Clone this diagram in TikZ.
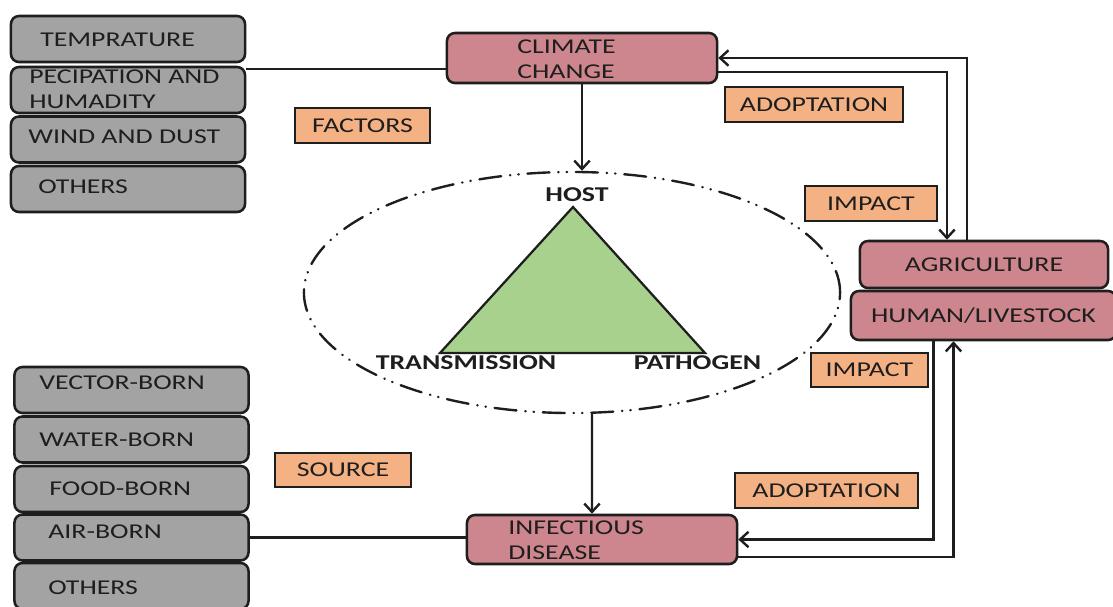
\documentclass[tikz,border=0pt]{standalone}
\usepackage{fontspec}
\setmainfont{Carlito}[FakeStretch=1.32]
\usetikzlibrary{shapes.geometric,arrows.meta}
\definecolor{boxgrey}{HTML}{A3A3A3}
\definecolor{boxpink}{HTML}{CD868E}
\definecolor{boxorange}{HTML}{F4B183}
\definecolor{trigreen}{HTML}{A9D18E}
\definecolor{inkdark}{HTML}{1E1E1E}

\begin{document}
\begin{tikzpicture}[x=0.025cm,y=-0.025cm,
  font=\fontsize{15}{17.8}\selectfont,
  >={Straight Barb[length=6pt,width=11pt]},
  greybox/.style={draw=inkdark,fill=boxgrey,rounded corners=0.2cm,line width=1.8pt,
    minimum width=5.85cm,minimum height=1.15cm,inner sep=0},
  pinkbox/.style={draw=inkdark,fill=boxpink,rounded corners=0.2cm,line width=1.8pt,inner sep=0},
  orangebox/.style={draw=inkdark,fill=boxorange,line width=1.8pt,minimum height=0.875cm,
    inner sep=0,text=inkdark},
  boxtext/.style={anchor=west,inner sep=0,align=left,text=inkdark},
  vertex/.style={inner sep=0,font=\fontsize{15}{17.8}\selectfont\bfseries,text=inkdark},
  link/.style={draw=inkdark,line width=1.7pt},
  hostring/.style={draw=inkdark,ellipse,line width=1.7pt,line cap=round,inner sep=0,
    minimum width=13.4cm,minimum height=6.025cm,
    dash pattern=on 0.55cm off 0.22cm on 0.01cm off 0.2cm on 0.01cm off 0.22cm}]
\fill[white] (0,0) rectangle (1113,606);
\useasboundingbox (0,0) rectangle (1113,606);

% climate factors
\node[greybox] (temp) at (128,39) {};
\node[greybox] (prec) at (128,90) {};
\node[greybox] (wind) at (128,139.5) {};
\node[greybox] (othera) at (128,189) {};
\node[boxtext] (temptxt) at (40,40) {TEMPRATURE};
\node[boxtext] (prectxt) at (29,89.5) {\fontsize{15}{15}\selectfont PECIPATION AND\\HUMADITY};
\node[boxtext] (windtxt) at (28,137) {WIND AND DUST};
\node[boxtext] (otheratxt) at (38,187) {OTHERS};

% disease sources
\node[greybox] (vector) at (131.5,390) {};
\node[greybox] (water) at (131.5,439.5) {};
\node[greybox] (food) at (131.5,489) {};
\node[greybox] (air) at (131.5,537.5) {};
\node[greybox] (otherb) at (131.5,586) {};
\node[boxtext] (vectortxt) at (39,383) {VECTOR-BORN};
\node[boxtext] (watertxt) at (39,440) {WATER-BORN};
\node[boxtext] (foodtxt) at (49,489) {FOOD-BORN};
\node[boxtext] (airtxt) at (48,532) {AIR-BORN};
\node[boxtext] (otherbtxt) at (48,588) {OTHERS};

% main boxes
\node[pinkbox,minimum width=6.75cm,minimum height=1.25cm] (climate) at (582,58) {};
\node[boxtext] (climatetxt) at (517,59.5) {CLIMATE\\CHANGE};
\node[pinkbox,minimum width=6.75cm,minimum height=1.225cm] (infect) at (602,539.5) {};
\node[boxtext] (infecttxt) at (508,540.5) {INFECTIOUS\\DISEASE};
\node[pinkbox,minimum width=6.2cm,minimum height=1.175cm,text=inkdark] (agri) at (984,264.5) {AGRICULTURE};
\node[pinkbox,minimum width=6.625cm,minimum height=1.225cm,text=inkdark] (human) at (983.5,315.5) {HUMAN/LIVESTOCK};

% labels
\node[orangebox,minimum width=3.375cm] (factors) at (362.5,125.5) {FACTORS};
\node[orangebox,minimum width=4.45cm] (adopta) at (814,104.5) {ADOPTATION};
\node[orangebox,minimum width=3.3cm] (impacta) at (871,203.5) {IMPACT};
\node[orangebox,minimum width=2.925cm,minimum height=0.85cm] (impactb) at (869.5,370) {IMPACT};
\node[orangebox,minimum width=4.575cm] (adoptb) at (826.5,490.5) {ADOPTATION};
\node[orangebox,minimum width=3.4cm,minimum height=0.85cm] (source) at (343,470) {SOURCE};

% disease triangle
\node[hostring] (ring) at (572,292.5) {};
\coordinate (apex) at (573,207);
\coordinate (tleft) at (440,353);
\coordinate (tright) at (705,353);
\draw[fill=trigreen,draw=inkdark,line width=1.6pt,line join=miter] (apex) -- (tleft) -- (tright) -- cycle;
\node[vertex] (host) at (577,195) {HOST};
\node[vertex] (trans) at (466,363) {TRANSMISSION};
\node[vertex] (patho) at (697.5,363) {PATHOGEN};

% connectors
\coordinate (pjoin) at ([yshift=-0.275cm]climate.west);
\draw[link] (pjoin) -- (pjoin -| prec.east);
\draw[link] (air.east) -- (air.east -| infect.west);
\draw[link,->] (climate.south) -- (climate.south |- ring.north);
\draw[link,->] ([xshift=0.5cm]ring.south) -- ([xshift=-0.25cm]infect.north);
\draw[link,->] ([yshift=-0.35cm]climate.east) -| ([xshift=-0.925cm]agri.north);
\draw[link,->] ([xshift=-0.425cm]agri.north) |- (climate.east);
\draw[link,->] ([xshift=-1.25cm]human.south) |- (infect.east);
\draw[link,->] ([yshift=-0.44cm]infect.east) -| ([xshift=-0.75cm]human.south);
\end{tikzpicture}
\end{document}
